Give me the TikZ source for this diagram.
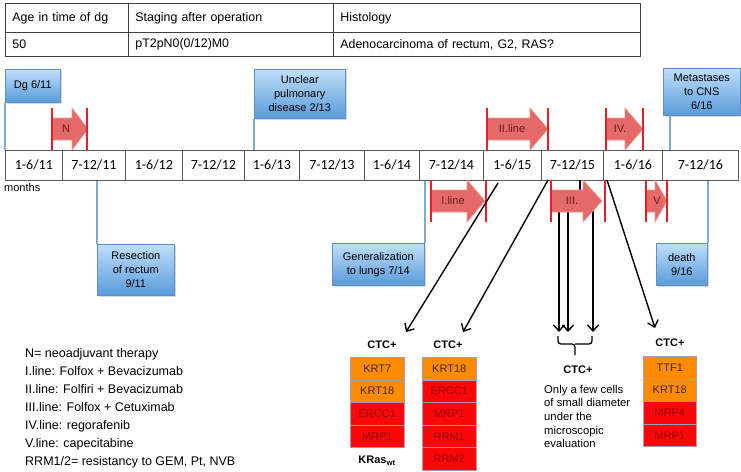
\documentclass[tikz,border=0pt]{standalone}
\usepackage{fontspec}
\setmainfont{Liberation Sans}
\newfontfamily\calib{Carlito}
\usetikzlibrary{arrows.meta,shadows}
\definecolor{bluetop}{RGB}{192,222,250}
\definecolor{bluebot}{RGB}{88,155,218}
\definecolor{blueedge}{RGB}{95,145,200}
\definecolor{bluelinec}{RGB}{125,170,215}
\definecolor{arrfill}{RGB}{228,105,105}
\definecolor{arredge}{RGB}{240,150,150}
\definecolor{barred}{RGB}{232,30,40}
\definecolor{lblred}{RGB}{110,30,30}
\definecolor{orangebox}{RGB}{255,140,0}
\definecolor{redbox}{RGB}{250,8,8}
\definecolor{orangetxt}{RGB}{70,35,0}
\definecolor{redtxt}{RGB}{150,0,0}
\definecolor{boxedge}{RGB}{165,155,190}
\newcommand{\redarr}[7]{%
  \draw[arrshape] (#1,#5-11) -- (#2,#5-11) -- (#2,#5-21) -- (#3,#5) -- (#2,#5+21) -- (#2,#5+11) -- (#1,#5+11) -- cycle;
  \draw[redbar] (#1,#5-21) -- (#1,#5+21) (#4,#5-21) -- (#4,#5+21);
  \node[arrlbl] at (#6,#5) {#7};
}
\begin{document}
\begin{tikzpicture}[x=1pt,y=-1pt,
  tcell/.style={draw=black!75, line width=0.8pt, anchor=north west, inner xsep=7pt, inner ysep=0pt, align=left, font=\fontsize{12.4}{14}\selectfont},
  cell/.style={draw=black!65, fill=white, line width=0.8pt, anchor=north west, minimum height=30pt, inner sep=0pt, font=\calib\fontsize{14}{16}\selectfont},
  bbox/.style={draw=blueedge, line width=0.6pt, top color=bluetop, bottom color=bluebot, anchor=north west, align=center, inner sep=1pt, font=\fontsize{11}{14}\selectfont, drop shadow={shadow xshift=1.3pt, shadow yshift=-1.3pt, opacity=0.3}},
  bline/.style={draw=bluelinec, line width=1.8pt},
  arrshape/.style={fill=arrfill, draw=arredge, line width=0.6pt},
  redbar/.style={draw=barred, line width=1.3pt},
  arrlbl/.style={text=lblred, font=\fontsize{11}{13}\selectfont},
  ctcb/.style={draw=boxedge, line width=0.5pt, minimum height=22.6pt, inner sep=0pt, anchor=north west, font=\fontsize{11}{13}\selectfont},
  ctco/.style={ctcb, fill=orangebox, text=orangetxt},
  ctcr/.style={ctcb, fill=redbox, text=redtxt},
  ctclbl/.style={font=\bfseries\fontsize{11}{13}\selectfont},
  ctcarr/.style={draw=black, line width=1.4pt, -{Straight Barb[length=6pt,width=11pt]}},
  ctcline/.style={draw=black, line width=1.4pt}
]
\fill[white] (0,0) rectangle (741,471);
\useasboundingbox (0,0) rectangle (741,471);

% table
\node[tcell, minimum width=123pt, minimum height=29pt, text width=109pt] (h1) at (5,3) {Age in time of dg};
\node[tcell, minimum width=205pt, minimum height=29pt, text width=191pt] (h2) at (128,3) {Staging after operation};
\node[tcell, minimum width=307pt, minimum height=29pt, text width=293pt] (h3) at (333,3) {Histology};
\node[tcell, minimum width=123pt, minimum height=24pt, text width=109pt] (d1) at (5,32) {50};
\node[tcell, minimum width=205pt, minimum height=24pt, text width=191pt] (d2) at (128,32) {pT2pN0(0/12)M0};
\node[tcell, minimum width=307pt, minimum height=24pt, text width=293pt] (d3) at (333,32) {Adenocarcinoma of rectum, G2, RAS?};

% blue boxes
\node[bbox, minimum width=55pt, minimum height=33pt] (dg) at (5,69) {Dg 6/11};
\node[bbox, minimum width=91pt, minimum height=49pt] (unc) at (254,69) {Unclear\\pulmonary\\disease 2/13};
\node[bbox, minimum width=77pt, minimum height=47pt] (meta) at (663,68) {Metastases\\to CNS\\6/16};
\node[bbox, minimum width=77pt, minimum height=51pt] (res) at (97,244) {Resection\\of rectum\\9/11};
\node[bbox, minimum width=92pt, minimum height=42pt] (gen) at (332,243) {Generalization\\to lungs 7/14};
\node[bbox, minimum width=51pt, minimum height=42pt] (death) at (656,243) {death\\9/16};

% timeline
\node[cell, minimum width=57pt] (t1) at (5,150) {1-6/11};
\node[cell, minimum width=63pt] (t2) at (62,150) {7-12/11};
\node[cell, minimum width=57pt] (t3) at (125,150) {1-6/12};
\node[cell, minimum width=62pt] (t4) at (182,150) {7-12/12};
\node[cell, minimum width=55pt] (t5) at (244,150) {1-6/13};
\node[cell, minimum width=65pt] (t6) at (299,150) {7-12/13};
\node[cell, minimum width=55pt] (t7) at (364,150) {1-6/14};
\node[cell, minimum width=64pt] (t8) at (419,150) {7-12/14};
\node[cell, minimum width=58pt] (t9) at (483,150) {1-6/15};
\node[cell, minimum width=62pt] (t10) at (541,150) {7-12/15};
\node[cell, minimum width=59pt] (t11) at (603,150) {1-6/16};
\node[cell, minimum width=76pt] (t12) at (662,150) {7-12/16};
\node[anchor=west, inner sep=0pt, font=\fontsize{11}{13}\selectfont] (months) at (4,188) {months};

% blue connector lines
\begin{scope}[on background layer/.style={}]
\draw[bline] (dg.south west) -- (dg.south west |- t1.north);
\draw[bline] (unc.south west) -- (unc.south west |- t5.north);
\draw[bline] ([xshift=7pt]meta.south west) -- ([xshift=7pt]meta.south west |- t12.north);
\draw[bline] (res.north west) -- (res.north west |- t2.south);
\draw[bline] (gen.north east) -- (gen.north east |- t8.south);
\draw[bline] (death.north east) -- (death.north east |- t12.south);
\end{scope}

% vertical CTC lines behind arrow III
\coordinate (v1s) at (559,192); \coordinate (v1e) at (559,332);
\coordinate (v2s) at (568,192); \coordinate (v2e) at (568,332);
\coordinate (v3s) at (593,192); \coordinate (v3e) at (593,332);
\coordinate (stubs) at (580,180); \coordinate (stube) at (580,200);
\draw[ctcarr] (v1s) -- (v1e);
\draw[ctcarr] (v2s) -- (v2e);
\draw[ctcarr] (v3s) -- (v3e);
\draw[ctcline] (stubs) -- (stube);

% red therapy arrows
\redarr{52}{72}{88}{87}{129}{66}{N}
\redarr{487}{530}{548}{548}{129}{512}{II.line}
\redarr{606}{625}{643}{643}{129}{620}{IV.}
\redarr{431}{467}{485}{486}{201}{453}{I.line}
\redarr{551}{583}{602}{605}{201}{572}{III.}
\redarr{646}{655}{667}{667}{201}{657}{V}

% diagonal CTC arrows
\coordinate (s1) at (498,183); \coordinate (e1) at (406,332);
\coordinate (s2) at (548,180); \coordinate (e2) at (463,332);
\coordinate (s4) at (607,180); \coordinate (e4) at (655,328);
\draw[ctcarr] (s1) -- (e1);
\draw[ctcarr] (s2) -- (e2);
\draw[ctcarr] (s4) -- (e4);

% brace
\draw[ctcline, line width=1.3pt, rounded corners=3pt] (558,336) |- (575,344) -- (575,355);
\draw[ctcline, line width=1.3pt, rounded corners=3pt] (592,336) |- (575,344);

% CTC labels
\node[ctclbl] (l1) at (382,345) {CTC+};
\node[ctclbl] (l2) at (448,345) {CTC+};
\node[ctclbl] (l3) at (578,370) {CTC+};
\node[ctclbl] (l4) at (670,343) {CTC+};

% column 1
\node[ctco, minimum width=54pt] (c1a) at (350,357) {KRT7};
\node[ctco, minimum width=54pt] (c1b) at (350,379.6) {KRT18};
\node[ctcr, minimum width=54pt] (c1c) at (350,402.2) {ERCC1};
\node[ctcr, minimum width=54pt] (c1d) at (350,424.8) {MRP1};
\node[font=\bfseries\fontsize{11}{13}\selectfont] (kras) at (377,461) {KRas\textsubscript{wt}};
% column 2
\node[ctco, minimum width=54pt] (c2a) at (422,357) {KRT18};
\node[ctcr, minimum width=54pt] (c2b) at (422,379.6) {ERCC1};
\node[ctcr, minimum width=54pt] (c2c) at (422,402.2) {MRP1};
\node[ctcr, minimum width=54pt] (c2d) at (422,424.8) {RRM1};
\node[ctcr, minimum width=54pt] (c2e) at (422,447.4) {RRM2};
% column 3
\node[anchor=north west, inner sep=0pt, align=left, font=\fontsize{11.3}{13.6}\selectfont] (c3) at (544,385) {Only a few cells\\of small diameter\\under the\\microscopic\\evaluation};
% column 4
\node[ctco, minimum width=53pt] (c4a) at (643,356) {TTF1};
\node[ctco, minimum width=53pt] (c4b) at (643,378.6) {KRT18};
\node[ctcr, minimum width=53pt] (c4c) at (643,401.2) {MRP4};
\node[ctcr, minimum width=53pt] (c4d) at (643,423.8) {MRP1};

% legend
\node[anchor=north west, inner sep=0pt, align=left, font=\fontsize{12.5}{18}\selectfont] (legend) at (25,348.5) {N= neoadjuvant therapy\\I.line: Folfox + Bevacizumab\\II.line: Folfiri + Bevacizumab\\III.line: Folfox + Cetuximab\\IV.line: regorafenib\\V.line: capecitabine\\RRM1/2= resistancy to GEM, Pt, NVB};
\end{tikzpicture}
\end{document}
